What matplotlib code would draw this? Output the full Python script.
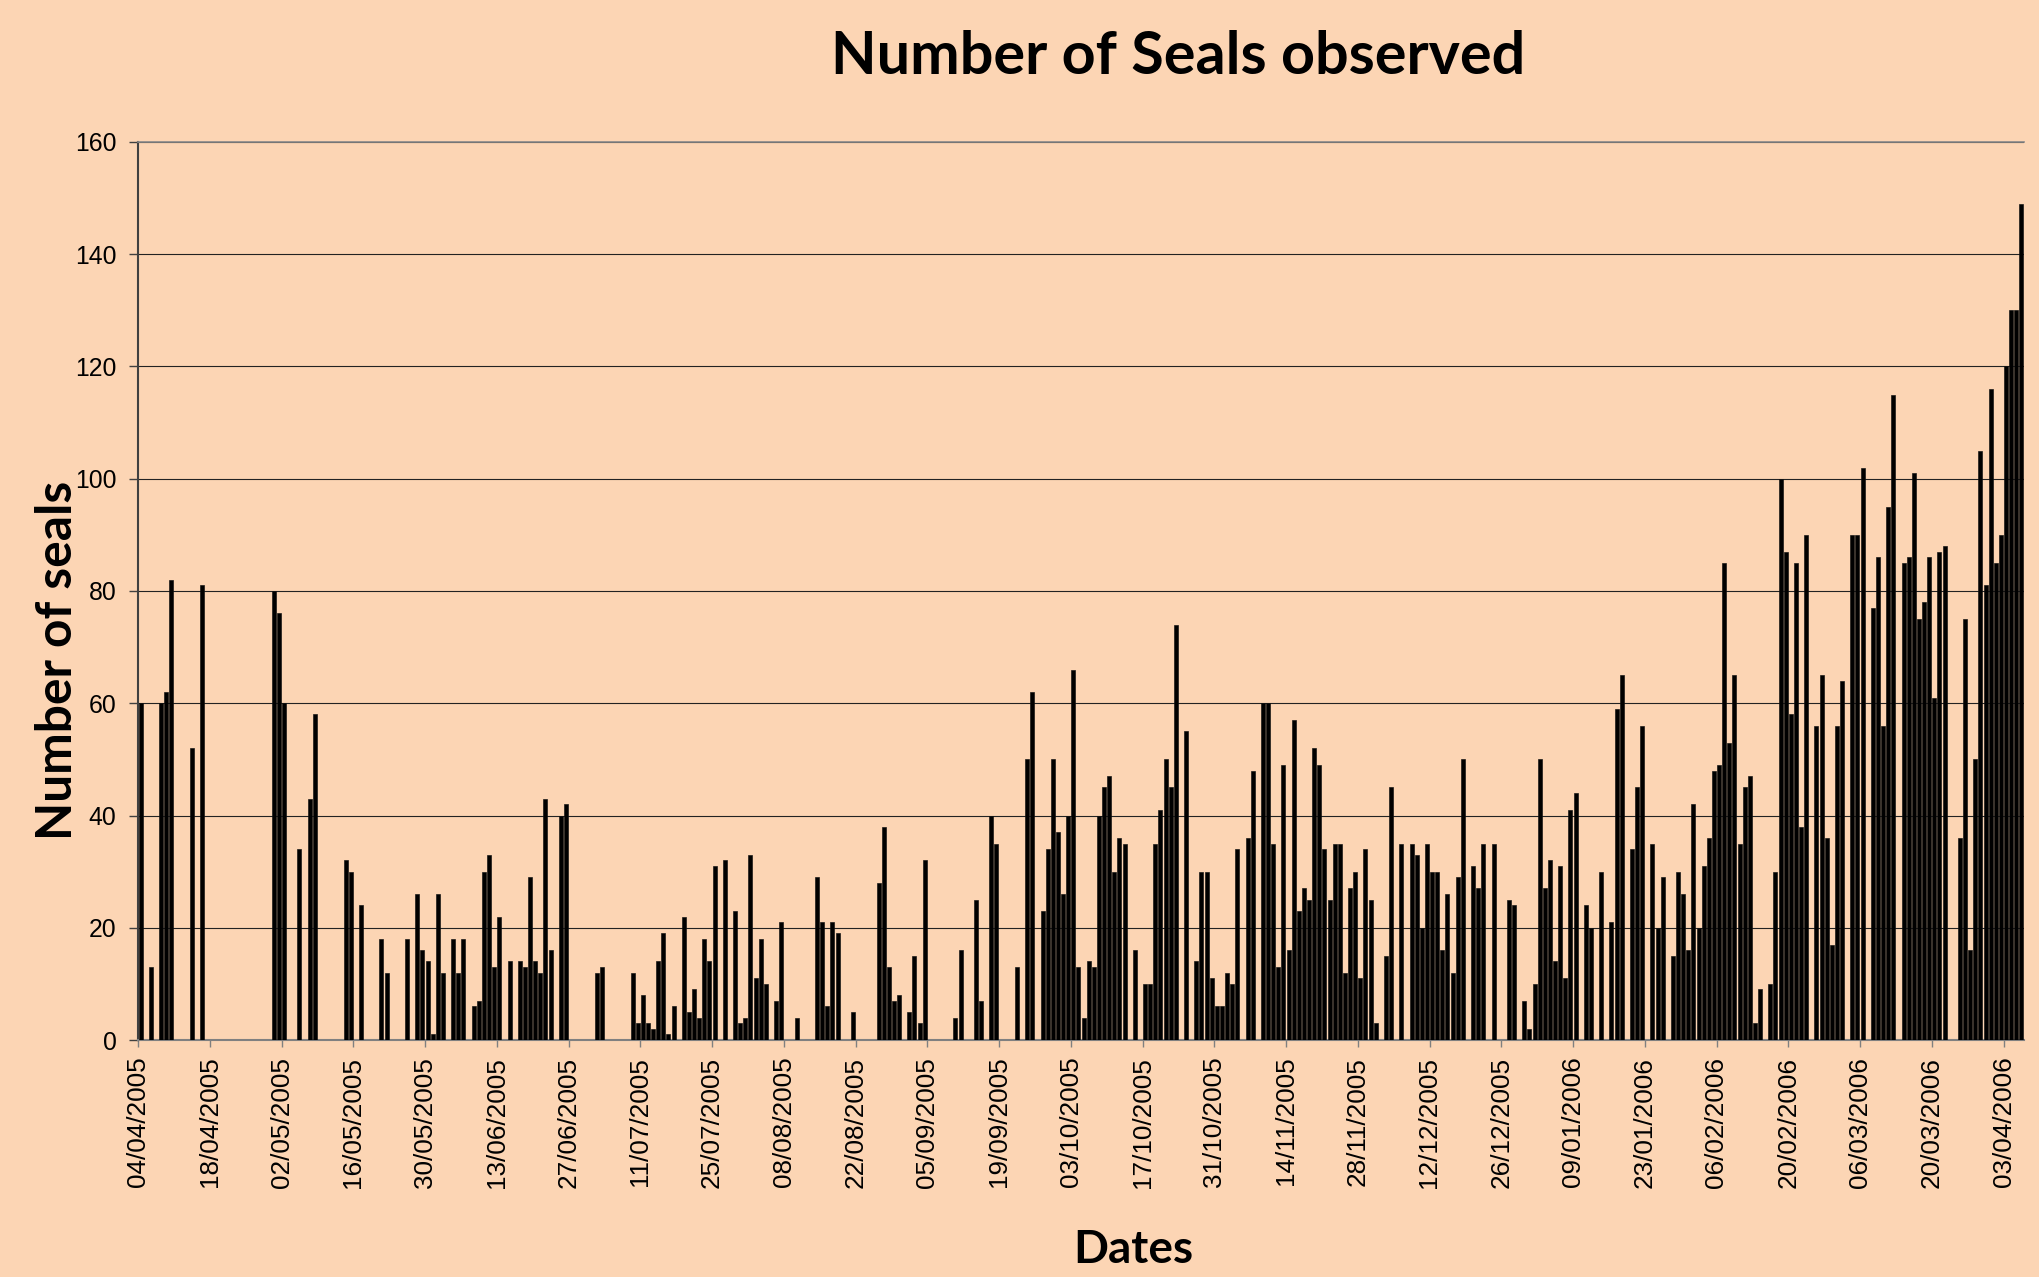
import matplotlib
matplotlib.use("Agg")
import matplotlib.pyplot as plt
import matplotlib.dates as mdates
import pandas as pd

# ---------------- data (day of month, seals counted) ----------------
apr05_days = [4, 6, 8, 9, 10, 14, 16, 30]
apr05_counts = [60, 13, 60, 62, 82, 52, 81, 80]
may05_days = [1, 2, 5, 7, 8, 14, 15, 17, 21, 22, 26, 28, 29, 30, 31]
may05_counts = [76, 60, 34, 43, 58, 32, 30, 24, 18, 12, 18, 26, 16, 14, 1]
jun05_days = [1, 2, 4, 5, 6, 8, 9, 10, 11, 12, 13, 15, 17, 18, 19, 20, 21, 22, 23, 25, 26]
jun05_counts = [26, 12, 18, 12, 18, 6, 7, 30, 33, 13, 22, 14, 14, 13, 29, 14, 12, 43, 16, 40, 42]
jul05_days = [2, 3, 9, 10, 11, 12, 13, 14, 15, 16, 17, 19, 20, 21, 22, 23, 24, 25, 27, 29, 30, 31]
jul05_counts = [12, 13, 12, 3, 8, 3, 2, 14, 19, 1, 6, 22, 5, 9, 4, 18, 14, 31, 32, 23, 3, 4]
aug05_days = [1, 2, 3, 4, 6, 7, 10, 14, 15, 16, 17, 18, 21, 26, 27, 28, 29, 30]
aug05_counts = [33, 11, 18, 10, 7, 21, 4, 29, 21, 6, 21, 19, 5, 28, 38, 13, 7, 8]
sep05_days = [1, 2, 3, 4, 10, 11, 14, 15, 17, 18, 22, 24, 25, 27, 28, 29, 30]
sep05_counts = [5, 15, 3, 32, 4, 16, 25, 7, 40, 35, 13, 50, 62, 23, 34, 50, 37]
oct05_days = [1, 2, 3, 4, 5, 6, 7, 8, 9, 10, 11, 12, 13, 15, 17, 18, 19, 20, 21, 22, 23, 25,
              27, 28, 29, 30, 31]
oct05_counts = [26, 40, 66, 13, 4, 14, 13, 40, 45, 47, 30, 36, 35, 16, 10, 10, 35, 41, 50, 45,
                74, 55, 14, 30, 30, 11, 6]
nov05_days = [1, 2, 3, 4, 6, 7, 9, 10, 11, 12, 13, 14, 15, 16, 17, 18, 19, 20, 21, 22, 23, 24,
              25, 26, 27, 28, 29, 30]
nov05_counts = [6, 12, 10, 34, 36, 48, 60, 60, 35, 13, 49, 16, 57, 23, 27, 25, 52, 49, 34, 25,
                35, 35, 12, 27, 30, 11, 34, 25]
dec05_days = [1, 3, 4, 6, 8, 9, 10, 11, 12, 13, 14, 15, 16, 17, 18, 20, 21, 22, 24, 27, 28, 30, 31]
dec05_counts = [3, 15, 45, 35, 35, 33, 20, 35, 30, 30, 16, 26, 12, 29, 50, 31, 27, 35, 35, 25,
                24, 7, 2]
jan06_days = [1, 2, 3, 4, 5, 6, 7, 8, 9, 11, 12, 14, 16, 17, 18, 20, 21, 22, 24, 25, 26, 28,
              29, 30, 31]
jan06_counts = [10, 50, 27, 32, 14, 31, 11, 41, 44, 24, 20, 30, 21, 59, 65, 34, 45, 56, 35, 20,
                29, 15, 30, 26, 16]
feb06_days = [1, 2, 3, 4, 5, 6, 7, 8, 9, 10, 11, 12, 13, 14, 16, 17, 18, 19, 20, 21, 22, 23,
              25, 26, 27, 28]
feb06_counts = [42, 20, 31, 36, 48, 49, 85, 53, 65, 35, 45, 47, 3, 9, 10, 30, 100, 87, 58, 85,
                38, 90, 56, 65, 36, 17]
mar06_days = [1, 2, 4, 5, 6, 8, 9, 10, 11, 12, 14, 15, 16, 17, 18, 19, 20, 21, 22, 25, 26, 27,
              28, 29, 30, 31]
mar06_counts = [56, 64, 90, 90, 102, 77, 86, 56, 95, 115, 85, 86, 101, 75, 78, 86, 61, 87, 88,
                36, 75, 16, 50, 105, 81, 116]
apr06_days = [1, 2, 3, 4, 5, 6]
apr06_counts = [85, 90, 120, 130, 130, 149]

axis_start = "2005-04-04"
axis_end = "2006-04-07"
last_tick = "2006-04-03"

months = [
    (2005, 4, apr05_days, apr05_counts), (2005, 5, may05_days, may05_counts),
    (2005, 6, jun05_days, jun05_counts), (2005, 7, jul05_days, jul05_counts),
    (2005, 8, aug05_days, aug05_counts), (2005, 9, sep05_days, sep05_counts),
    (2005, 10, oct05_days, oct05_counts), (2005, 11, nov05_days, nov05_counts),
    (2005, 12, dec05_days, dec05_counts), (2006, 1, jan06_days, jan06_counts),
    (2006, 2, feb06_days, feb06_counts), (2006, 3, mar06_days, mar06_counts),
    (2006, 4, apr06_days, apr06_counts),
]
dates, counts = [], []
for y, m, ds, cs in months:
    for d, c in zip(ds, cs):
        dates.append(pd.Timestamp(y, m, d))
        counts.append(c)

# ---------------- figure ----------------
BG = "#FCD5B4"
W, H = 2039, 1277
fig = plt.figure(figsize=(W / 100, H / 100), dpi=100, facecolor=BG)
left, right, top, bottom = 138, 2024, 142, 1040
ax = fig.add_axes([left / W, 1 - bottom / H, (right - left) / W, (bottom - top) / H],
                  facecolor=BG)

x = mdates.date2num(dates) + 0.5  # centre of each day slot
ax.bar(x, counts, width=0.8, color="black", edgecolor="#111111", linewidth=0.45, zorder=3)

ax.set_ylim(0, 160)
ax.set_yticks(range(0, 161, 20))
ax.set_axisbelow(True)
ax.yaxis.grid(True, color="#222222", linewidth=0.8)

ax.set_xlim(mdates.date2num(pd.Timestamp(axis_start)), mdates.date2num(pd.Timestamp(axis_end)))
ticks = pd.date_range(axis_start, last_tick, freq="14D")
ax.set_xticks(mdates.date2num(ticks))
ax.set_xticklabels([t.strftime("%d/%m/%Y") for t in ticks], rotation=90,
                   fontsize=18.8, family="Liberation Sans")
for lab in ax.get_yticklabels():
    lab.set_family("Liberation Sans")
ax.tick_params(axis="x", length=5, width=1, color="#808080", pad=7)
ax.tick_params(axis="y", length=6.5, width=1, color="#404040", pad=9, labelsize=17.8)

ax.spines["right"].set_visible(False)
ax.spines["top"].set_color("#888888")
ax.spines["top"].set_linewidth(1.2)
ax.spines["left"].set_color("#404040")
ax.spines["left"].set_linewidth(1.5)
ax.spines["bottom"].set_color("#808080")
ax.spines["bottom"].set_linewidth(1.5)

title = fig.text(1178 / W, 1 - 74 / H, "Number of Seals observed", ha="center",
                 va="baseline", fontsize=46, fontweight="bold", family="Lato")
xl = fig.text(1133 / W, 1 - 1263 / H, "Dates", ha="center", va="baseline",
              fontsize=36, fontweight="bold", family="Lato")
yl = fig.text(72 / W, 1 - 660 / H, "Number of seals", ha="center", va="baseline",
              rotation=90, rotation_mode="anchor", fontsize=36, fontweight="bold",
              family="Lato")

fig.canvas.draw()
r = fig.canvas.get_renderer()
for t, target, dim in [(title, 693, "w"), (xl, 120, "w"), (yl, 358, "h")]:
    bb = t.get_window_extent(r)
    cur = bb.width if dim == "w" else bb.height
    t.set_fontsize(t.get_fontsize() * target / cur)

fig.savefig("out.png", dpi=100, facecolor=BG)
